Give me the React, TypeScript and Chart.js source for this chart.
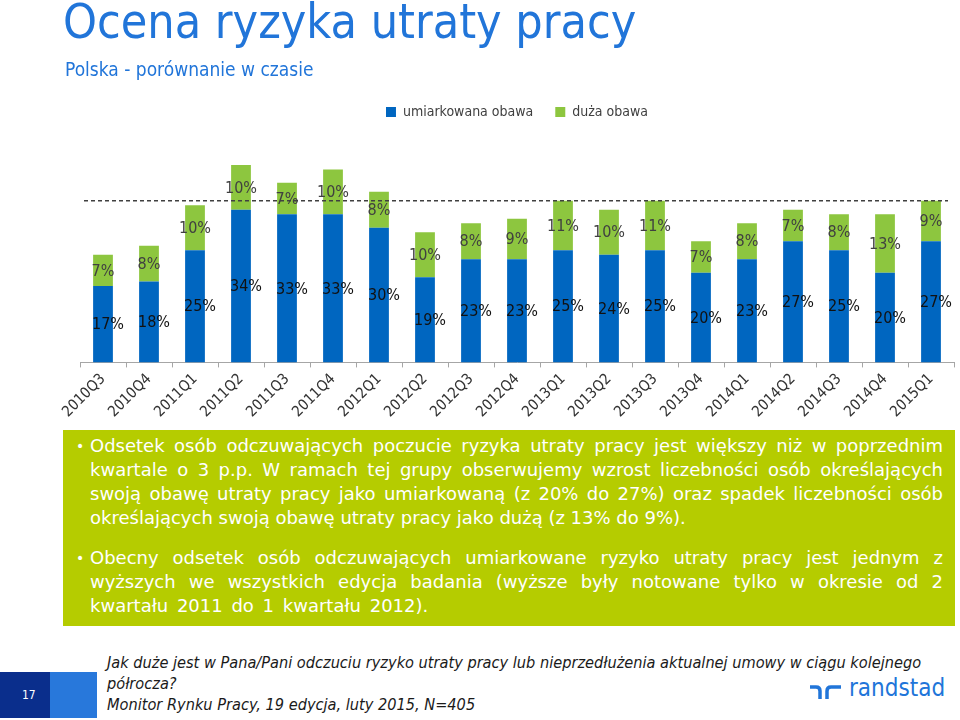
import React, { useEffect, useRef } from "react";
import { Chart, registerables } from "chart.js";

Chart.register(...registerables);

const categories = ["2010Q3","2010Q4","2011Q1","2011Q2","2011Q3","2011Q4","2012Q1","2012Q2","2012Q3","2012Q4","2013Q1","2013Q2","2013Q3","2013Q4","2014Q1","2014Q2","2014Q3","2014Q4","2015Q1"];
const moderate = [17,18,25,34,33,33,30,19,23,23,25,24,25,20,23,27,25,20,27];
const high = [7,8,10,10,7,10,8,10,8,9,11,10,11,7,8,7,8,13,9];
const referenceLevel = 36;
const seriesNames = ["umiarkowana obawa", "duża obawa"];

const FONT = "'DejaVu Sans Condensed', 'Liberation Sans', sans-serif";
const BODY_FONT = "'DejaVu Sans', Verdana, sans-serif";

const labelPlugin = {
  id: "labelsAndLine",
  afterDatasetsDraw(chart: any) {
    const ctx = chart.ctx;
    const area = chart.chartArea;
    const yScale = chart.scales.y;
    const ly = yScale.getPixelForValue(referenceLevel);
    ctx.save();
    ctx.strokeStyle = "#404040";
    ctx.lineWidth = 1.5;
    ctx.setLineDash([4, 3]);
    ctx.beginPath();
    ctx.moveTo(area.left + 4, ly);
    ctx.lineTo(area.right - 6, ly);
    ctx.stroke();
    ctx.setLineDash([]);
    ctx.font = "16px " + FONT;
    ctx.textAlign = "center";
    ctx.textBaseline = "middle";
    chart.data.datasets.forEach((ds: any, di: number) => {
      const meta = chart.getDatasetMeta(di);
      meta.data.forEach((el: any, i: number) => {
        const p = el.getProps(["x", "y", "base"], true);
        const cy = (p.y + p.base) / 2;
        const dx = di === 0 ? 5 : 0;
        ctx.fillStyle = di === 0 ? "#111111" : "#404040";
        ctx.fillText(ds.data[i] + "%", p.x + dx, cy + 1);
      });
    });
    ctx.restore();
  },
};

function BarChart() {
  const ref = useRef<HTMLCanvasElement>(null);
  useEffect(() => {
    if (!ref.current) return;
    const chart = new Chart(ref.current, {
      type: "bar",
      data: {
        labels: categories,
        datasets: [
          { label: seriesNames[0], data: moderate, backgroundColor: "#0066C0", barPercentage: 0.43, categoryPercentage: 1 },
          { label: seriesNames[1], data: high, backgroundColor: "#8DC63F", barPercentage: 0.43, categoryPercentage: 1 },
        ],
      },
      options: {
        responsive: false,
        animation: false,
        layout: { padding: { left: 80, right: 6, top: 83, bottom: 0 } },
        plugins: {
          legend: {
            display: true,
            position: "top",
            labels: {
              boxWidth: 10,
              boxHeight: 10,
              padding: 22,
              color: "#404040",
              font: { size: 14, family: FONT },
            },
          },
          tooltip: { enabled: false },
        },
        scales: {
          x: {
            stacked: true,
            offset: true,
            border: { display: true, color: "#A6A6A6", width: 1 },
            grid: { display: true, drawOnChartArea: false, drawTicks: true, tickLength: 5, color: "#A6A6A6", offset: true },
            ticks: { maxRotation: 45, minRotation: 45, color: "#333333", padding: 3, font: { size: 15, family: FONT } },
          },
          y: {
            stacked: true,
            display: false,
            min: 0,
            max: 52,
          },
        },
      },
      plugins: [labelPlugin],
    });
    return () => chart.destroy();
  }, []);
  return <canvas ref={ref} width={960} height={424} style={{ position: "absolute", left: 0, top: 0, width: 960, height: 424 }} />;
}

function Logo({ color }: { color: string }) {
  return (
    <svg width={40} height={20} style={{ position: "absolute", left: 808, top: 682 }}>
      <path d="M2 5 H8 Q12 5 12 9 V17" stroke={color} strokeWidth={3.5} fill="none" />
      <path d="M19 17 V9 Q19 5 23 5 H33" stroke={color} strokeWidth={3.5} fill="none" />
    </svg>
  );
}

export default function App() {
  const blue = "#2175D9";
  return (
    <div style={{ position: "fixed", left: 0, top: 0, width: 960, height: 720, background: "#fff", overflow: "hidden", fontFamily: FONT }}>
      <BarChart />
      <div style={{ position: "absolute", left: 63, top: -7, fontSize: 48, lineHeight: "56px", color: blue, whiteSpace: "nowrap" }}>Ocena ryzyka utraty pracy</div>
      <div style={{ position: "absolute", left: 65, top: 56, fontSize: 19, lineHeight: "26px", color: blue, whiteSpace: "nowrap" }}>Polska - porównanie w czasie</div>
      <div style={{ position: "absolute", left: 63, top: 430, width: 892, height: 196, background: "#B5CC00", boxSizing: "border-box", padding: "4px 12px 0 27px", color: "#fff", fontFamily: BODY_FONT, fontSize: 18, lineHeight: "24px" }}>
        <div style={{ position: "relative", textAlign: "justify" }}>
          <span style={{ position: "absolute", left: -14, top: 0, fontSize: 14 }}>•</span>
          Odsetek osób odczuwających poczucie ryzyka utraty pracy jest większy niż w poprzednim kwartale o 3 p.p. W ramach tej grupy obserwujemy wzrost liczebności osób określających swoją obawę utraty pracy jako umiarkowaną (z 20% do 27%) oraz spadek liczebności osób określających swoją obawę utraty pracy jako dużą (z 13% do 9%).
        </div>
        <div style={{ position: "relative", textAlign: "justify", marginTop: 16, wordSpacing: 3 }}>
          <span style={{ position: "absolute", left: -14, top: 0, fontSize: 14 }}>•</span>
          Obecny odsetek osób odczuwających umiarkowane ryzyko utraty pracy jest jednym z wyższych we wszystkich edycja badania (wyższe były notowane tylko w okresie od 2 kwartału 2011 do 1 kwartału 2012).
        </div>
      </div>
      <div style={{ position: "absolute", left: 0, top: 672, width: 50, height: 46, background: "#0A2E8C" }} />
      <div style={{ position: "absolute", left: 50, top: 672, width: 47, height: 46, background: "#2878DB" }} />
      <div style={{ position: "absolute", left: 22, top: 687, fontSize: 12, lineHeight: "16px", color: "#fff" }}>17</div>
      <div style={{ position: "absolute", left: 107, top: 652, fontSize: 16.2, lineHeight: "21px", fontStyle: "italic", color: "#1a1a1a", whiteSpace: "nowrap" }}>
        Jak duże jest w Pana/Pani odczuciu ryzyko utraty pracy lub nieprzedłużenia aktualnej umowy w ciągu kolejnego<br />półrocza?<br />Monitor Rynku Pracy, 19 edycja, luty 2015, N=405
      </div>
      <Logo color={blue} />
      <div style={{ position: "absolute", left: 849, top: 673, fontSize: 24, lineHeight: "30px", color: blue }}>randstad</div>
    </div>
  );
}
